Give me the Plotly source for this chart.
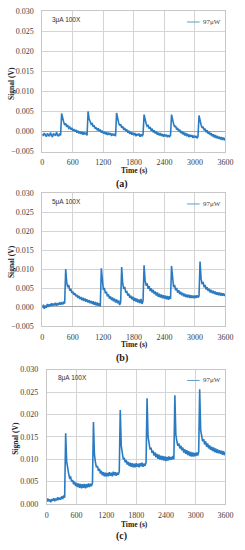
import plotly.graph_objects as go

W, H = 245, 550

# ---------------- data (signal in mV, sampled every 20 s) ----------------
time_s = list(range(0, 3601, 20))

signal_a_mV = [
    -0.6, -1.1, -0.4, -0.9, -1.3, -0.5, -0.8, -1.2, -0.3, -0.9, -1.4, -0.6, -0.7, -1.1, -0.2, -0.9, -1.2, -0.5, -1.0,
    4.5, 3.0, 2.4, 1.6, 2.0, 1.2, 1.5, 0.8, 1.1, 0.5, 0.9, 0.2, 0.6, 0.0, 0.4, -0.3, 0.2, -0.5, 0.0, -0.6, -0.1,
    -0.8, -0.2, -0.7, -0.3, -1.0,
    5.0, 3.2, 2.5, 1.8, 2.1, 1.2, 1.5, 0.7, 1.0, 0.3, 0.8, 0.0, 0.5, -0.3, 0.2, -0.5, -0.1, -0.7, -0.2, -0.9,
    -0.3, -0.8, -0.4, -1.1, -0.5, -1.0, -0.6, -1.2,
    4.6, 3.0, 2.2, 1.5, 1.8, 0.9, 1.3, 0.4, 0.9, 0.1, 0.5, -0.3, 0.2, -0.6, -0.1, -0.8, -0.3, -0.9, -0.4, -1.2,
    -0.6, -1.0, -0.5, -1.3, -0.7, -1.1, -0.8,
    4.2, 2.8, 2.0, 1.3, 1.6, 0.7, 1.1, 0.2, 0.7, -0.2, 0.3, -0.5, 0.0, -0.8, -0.3, -1.0, -0.4, -1.1, -0.6, -1.3,
    -0.7, -1.2, -0.8, -1.4, -0.9, -1.3, -1.0,
    4.2, 2.6, 1.9, 1.1, 1.4, 0.5, 0.9, 0.0, 0.5, -0.4, 0.1, -0.7, -0.2, -1.0, -0.4, -1.2, -0.6, -1.4, -0.8, -1.3,
    -0.9, -1.6, -1.0, -1.5, -1.1, -1.7, -1.2,
    4.0, 2.4, 1.7, 0.9, 1.2, 0.3, 0.7, -0.2, 0.3, -0.6, -0.1, -0.9, -0.4, -1.2, -0.7, -1.5, -0.9, -1.7, -1.1, -1.8,
    -1.3, -2.0, -1.4, -2.1, -1.5, -2.2, -1.7,
]

signal_b_mV = [
    -0.3, 0.6, -0.5, 0.4, -0.2, 0.8, 0.0, 0.7, 0.2, 1.0, 0.3, 0.9, 0.4, 1.1, 0.3, 1.0, 0.5, 1.2, 0.6, 1.3,
    0.7, 1.2, 0.9,
    10.0, 6.5, 5.2, 5.8, 4.3, 4.8, 3.7, 4.1, 3.2, 3.6, 2.8, 3.2, 2.4, 2.9, 2.1, 2.6, 1.8, 2.4, 1.6, 2.2,
    1.4, 2.0, 1.2, 1.8, 1.0, 1.6, 0.8, 1.5, 0.6, 1.3, 0.4, 1.2, 0.3, 1.0, 0.1,
    10.2, 6.0, 4.5, 5.0, 3.6, 4.0, 2.8, 3.3, 2.2, 2.8, 1.8, 2.5, 1.5, 2.2, 1.2, 2.0, 1.0, 1.7, 0.5, 1.2,
    10.5, 6.2, 4.8, 5.3, 3.8, 4.2, 3.0, 3.5, 2.4, 3.0, 2.0, 2.7, 1.6, 2.4, 1.4, 2.2, 1.2, 2.0, 1.0, 2.1,
    0.8, 1.6,
    11.0, 7.0, 5.6, 6.2, 4.8, 5.5, 4.2, 4.9, 3.8, 4.5, 3.4, 4.1, 3.0, 3.8, 2.7, 3.5, 2.5, 3.3, 2.3, 3.1,
    2.2, 3.0, 2.0, 2.9, 1.9, 2.8, 2.1,
    10.8, 6.5, 5.2, 5.8, 4.4, 5.0, 3.8, 4.4, 3.4, 4.0, 3.1, 3.7, 2.8, 3.5, 2.6, 3.3, 2.5, 3.2, 2.4, 3.1,
    2.4, 3.0, 2.3, 3.0, 2.4, 3.1, 2.5, 2.9,
    12.0, 7.5, 6.0, 6.6, 5.2, 5.8, 4.6, 5.2, 4.2, 4.8, 3.8, 4.5, 3.6, 4.3, 3.4, 4.1, 3.2, 3.9, 3.1, 3.8,
    3.0, 3.7, 3.0, 3.6, 2.9, 3.4,
]

signal_c_mV = [
    0.5, 1.2, 0.6, 1.0, 0.4, 1.1, 0.7, 1.3, 0.6, 1.2, 0.8, 1.5, 0.9, 1.4, 1.0, 1.7, 1.1, 1.9, 1.4,
    15.8, 9.5, 7.6, 6.8, 5.8, 6.0, 5.0, 5.4, 4.4, 5.0, 4.0, 4.7, 3.8, 4.6, 3.6, 4.5, 3.5, 4.4, 3.6, 4.5,
    3.5, 4.4, 3.7, 4.6, 3.8, 4.5, 4.0, 4.7,
    18.3, 11.0, 9.3, 8.2, 8.5, 7.4, 7.9, 6.8, 7.4, 6.4, 7.1, 6.2, 7.0, 6.1, 6.9, 6.2, 7.1, 6.3, 7.0, 6.2,
    7.2, 6.4, 7.1, 6.3, 7.0, 6.5, 7.2,
    21.0, 13.0, 11.2, 10.0, 10.3, 9.3, 9.8, 8.8, 9.4, 8.5, 9.2, 8.3, 9.1, 8.2, 9.0, 8.2, 9.1, 8.3, 9.0, 8.2,
    9.1, 8.4, 9.2, 8.3, 9.0, 8.5, 9.3,
    23.6, 15.0, 13.3, 12.2, 12.6, 11.4, 11.9, 10.8, 11.5, 10.4, 11.2, 10.1, 11.0, 9.9, 10.8, 9.8, 10.7, 9.7,
    10.6, 9.6, 10.5, 9.7, 10.6, 9.8, 10.5, 9.9, 10.7, 10.0,
    24.3, 15.5, 14.0, 13.0, 13.5, 12.4, 13.0, 12.0, 12.6, 11.5, 12.2, 11.2, 12.0, 10.9, 11.8, 10.7, 11.6,
    10.6, 11.5, 10.6, 11.4, 10.7, 11.5, 10.8, 11.6,
    25.6, 16.5, 15.0, 14.0, 14.5, 13.3, 14.0, 12.8, 13.5, 12.4, 13.1, 12.1, 12.8, 11.8, 12.6, 11.6, 12.4,
    11.4, 12.2, 11.3, 12.0, 11.2, 11.9, 11.0, 11.8, 10.9, 11.5,
]

panel_notes = ["3μA 100X", "5μA 100X", "8μA 100X"]
panel_letters = ["(a)", "(b)", "(c)"]
legend_name = "97μW"
x_ticks = [0, 600, 1200, 1800, 2400, 3000, 3600]
y_ranges = [[-0.005, 0.030], [-0.005, 0.030], [0.0, 0.030]]

# ---------------- layout helpers (pixel -> paper) ----------------
def px(x):
    return x / W

def py(y):
    return 1 - y / H

# plot areas in pixels: (left, right, top, bottom)
areas = [(42, 233, 7.3, 150), (42, 233, 192.3, 327.3), (46.7, 233, 371.7, 508.3)]

LINE_COLOR = "#2a7bc2"
GRID = "#d4d4d4"
TICKCOL = "#404040"
SERIF = "Liberation Serif"
SANS = "Liberation Sans"

fig = go.Figure()
series = [signal_a_mV, signal_b_mV, signal_c_mV]
for k, sig in enumerate(series):
    assert len(sig) == len(time_s), (k, len(sig))
    sfx = "" if k == 0 else str(k + 1)
    fig.add_trace(go.Scatter(
        x=time_s, y=[v / 1000 for v in sig], mode="lines",
        line=dict(color=LINE_COLOR, width=1.6), name=legend_name,
        xaxis="x" + sfx, yaxis="y" + sfx, showlegend=False,
    ))

layout = dict(
    width=W, height=H, margin=dict(l=0, r=0, t=0, b=0),
    paper_bgcolor="white", plot_bgcolor="white", showlegend=False,
    font=dict(family=SERIF), hovermode=False,
)
annotations = []
shapes = []
for k, (l, r, t, b) in enumerate(areas):
    sfx = "" if k == 0 else str(k + 1)
    layout["xaxis" + sfx] = dict(
        domain=[px(l), px(r)], anchor="y" + sfx, range=[0, 3600],
        tickvals=x_ticks, showgrid=True, gridcolor=GRID, gridwidth=1,
        showline=True, mirror=True, linecolor="#c8c8c8", linewidth=1,
        zeroline=False, ticks="outside", ticklen=3, tickcolor="rgba(0,0,0,0)",
        ticklabeloverflow="allow",
        tickfont=dict(family=SERIF, size=8, color=TICKCOL),
    )
    layout["yaxis" + sfx] = dict(
        domain=[py(b), py(t)], anchor="x" + sfx, range=y_ranges[k], dtick=0.005,
        tickformat=".3f", showgrid=True, gridcolor=GRID, gridwidth=1,
        showline=True, mirror=True, linecolor="#c8c8c8", linewidth=1,
        zeroline=True, zerolinecolor="#a8a8a8", zerolinewidth=1,
        ticks="outside", ticklen=6, tickcolor="rgba(0,0,0,0)",
        ticklabeloverflow="allow",
        tickfont=dict(family=SERIF, size=8, color=TICKCOL),
    )
    # y title
    annotations.append(dict(
        text="<b>Signal (V)</b>", xref="paper", yref="paper",
        x=px(l - 32), y=py((t + b) / 2 + 2), textangle=-90,
        showarrow=False, font=dict(family=SERIF, size=7.5, color="#202020"),
        xanchor="center", yanchor="middle",
    ))
    # x title
    annotations.append(dict(
        text="<b>Time (s)</b>", xref="paper", yref="paper",
        x=px(138), y=py(b + 19 if k < 2 else b + 21), showarrow=False,
        font=dict(family=SERIF, size=7.5, color="#202020"),
        xanchor="center", yanchor="middle",
    ))
    # panel letter
    annotations.append(dict(
        text="<b>" + panel_letters[k] + "</b>", xref="paper", yref="paper",
        x=px(125), y=py(b + 33), showarrow=False,
        font=dict(family=SERIF, size=10, color="#202020"),
        xanchor="center", yanchor="middle",
    ))
    # note text
    annotations.append(dict(
        text=panel_notes[k], xref="paper", yref="paper",
        x=px(l + 8 if k < 2 else l + 10), y=py(t + 8.5), showarrow=False,
        font=dict(family=SANS, size=6.5, color="#303030"),
        xanchor="left", yanchor="middle",
    ))
    # legend
    ly = t + 11
    shapes.append(dict(
        type="line", xref="paper", yref="paper",
        x0=px(193), x1=px(206), y0=py(ly), y1=py(ly),
        line=dict(color="#5a9bd5", width=1),
    ))
    annotations.append(dict(
        text=legend_name, xref="paper", yref="paper",
        x=px(207.5), y=py(ly), showarrow=False,
        font=dict(family=SERIF, size=7, color="#404040"),
        xanchor="left", yanchor="middle",
    ))

layout["annotations"] = annotations
layout["shapes"] = shapes
fig.update_layout(**layout)
fig.write_html(
    "out.html",
    config={"displayModeBar": False, "staticPlot": True},
    post_script="document.body.style.margin='0';document.body.style.overflow='hidden';",
)
